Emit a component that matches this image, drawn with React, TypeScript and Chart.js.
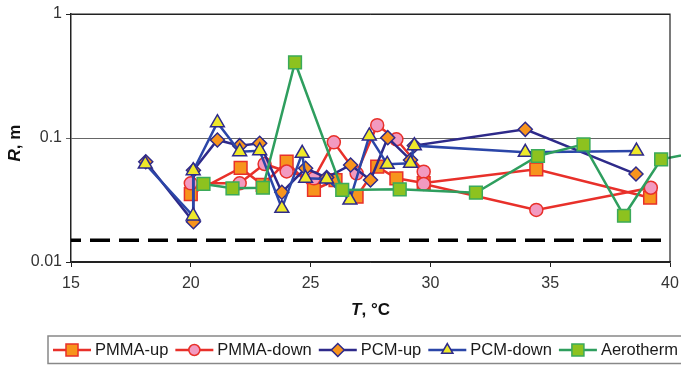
import React, { useEffect, useRef } from 'react';
import { Chart, registerables } from 'chart.js';

Chart.register(...registerables);

const FONT = "'Liberation Sans', Arial, Helvetica, sans-serif";

// Temperature (°C) and radius R (m) per series
const pmmaUpT = [20.0, 22.08, 23.0, 24.0, 25.14, 26.04, 26.92, 27.78, 28.58, 29.72, 34.42, 39.17];
const pmmaUpR = [0.0353, 0.0573, 0.0418, 0.0644, 0.0381, 0.0458, 0.0336, 0.0587, 0.0473, 0.0433, 0.0559, 0.033];

const pmmaDownT = [20.0, 22.04, 23.08, 24.0, 25.14, 25.97, 26.92, 27.78, 28.58, 29.72, 29.72, 34.42, 39.2];
const pmmaDownR = [0.0431, 0.0431, 0.0617, 0.0537, 0.0473, 0.0923, 0.0519, 0.127, 0.0976, 0.0535, 0.0426, 0.0263, 0.0397];

const pcmUpT = [18.12, 20.11, 20.11, 21.11, 22.04, 22.875, 23.8, 24.79, 25.67, 26.67, 27.5, 28.22, 29.17, 29.33, 33.96, 38.58];
const pcmUpR = [0.0644, 0.0211, 0.055, 0.0964, 0.0867, 0.0906, 0.0365, 0.057, 0.048, 0.0606, 0.0458, 0.1006, 0.0665, 0.087, 0.1175, 0.0512];

const pcmDownT = [18.1, 20.1, 20.1, 21.11, 22.04, 22.875, 23.8, 24.65, 24.79, 25.67, 26.64, 27.45, 28.2, 29.17, 29.33, 33.96, 38.6];
const pcmDownR = [0.0617, 0.0235, 0.0545, 0.133, 0.0776, 0.079, 0.0271, 0.0753, 0.0473, 0.0467, 0.0316, 0.104, 0.0614, 0.0625, 0.0867, 0.0767, 0.0785];

const aeroT = [20.53, 21.74, 23.01, 24.35, 26.32, 28.72, 31.9, 34.49, 36.39, 38.08, 39.63, 41.5];
const aeroR = [0.0426, 0.0393, 0.0397, 0.408, 0.0381, 0.0386, 0.0362, 0.0716, 0.0889, 0.0236, 0.0673, 0.079];

const limitT = [15, 40];
const limitR = [0.015, 0.015];

const seriesNames = ['PMMA-up', 'PMMA-down', 'PCM-up', 'PCM-down', 'Aerotherm'];
const xTickValues = [15, 20, 25, 30, 35, 40];
const yTickValues = [0.01, 0.1, 1];

const pts = (xs: number[], ys: number[]) => xs.map((x, i) => ({ x, y: ys[i] }));

type Sty = { line: string; fill: string; stroke: string; shape: string; r: number };
const styles: Sty[] = [
  { line: '#E8302A', fill: '#F7941D', stroke: '#E8302A', shape: 'rect', r: 9 },
  { line: '#E8302A', fill: '#F29AC0', stroke: '#E8302A', shape: 'circle', r: 6.5 },
  { line: '#2E2A8A', fill: '#F7941D', stroke: '#2E2A8A', shape: 'rectRot', r: 7 },
  { line: '#2B46A8', fill: '#EEE82A', stroke: '#2E2A8A', shape: 'triangle', r: 8 },
  { line: '#2E9E5E', fill: '#8DC21F', stroke: '#3BAA5A', shape: 'rect', r: 9 },
];

function drawMarker(ctx: CanvasRenderingContext2D, s: Sty, x: number, y: number, r: number) {
  ctx.beginPath();
  if (s.shape === 'rect') {
    const h = Math.SQRT1_2 * r;
    ctx.rect(x - h, y - h, 2 * h, 2 * h);
  } else if (s.shape === 'circle') {
    ctx.arc(x, y, r, 0, Math.PI * 2);
  } else if (s.shape === 'rectRot') {
    ctx.moveTo(x - r, y); ctx.lineTo(x, y - r); ctx.lineTo(x + r, y); ctx.lineTo(x, y + r); ctx.closePath();
  } else {
    ctx.moveTo(x, y - r);
    ctx.lineTo(x + Math.sin((2 * Math.PI) / 3) * r, y - Math.cos((2 * Math.PI) / 3) * r);
    ctx.lineTo(x + Math.sin((4 * Math.PI) / 3) * r, y - Math.cos((4 * Math.PI) / 3) * r);
    ctx.closePath();
  }
  ctx.fillStyle = s.fill;
  ctx.strokeStyle = s.stroke;
  ctx.lineWidth = 1.5;
  ctx.fill();
  ctx.stroke();
}

const decorPlugin = {
  id: 'decor',
  afterDraw(chart: any) {
    const { ctx, chartArea: a } = chart;
    ctx.save();
    // frame (top / right)
    ctx.strokeStyle = '#222';
    ctx.lineWidth = 1.2;
    ctx.beginPath();
    ctx.moveTo(a.left, a.top);
    ctx.lineTo(a.right, a.top);
    ctx.lineTo(a.right, a.bottom);
    ctx.stroke();

    // y title
    ctx.fillStyle = '#111';
    ctx.textBaseline = 'middle';
    ctx.save();
    ctx.translate(15, 143);
    ctx.rotate(-Math.PI / 2);
    const f1 = `italic bold 17px ${FONT}`;
    const f2 = `bold 17px ${FONT}`;
    ctx.font = f1;
    const w1 = ctx.measureText('R').width;
    ctx.font = f2;
    const w2 = ctx.measureText(', m').width;
    const sx = -(w1 + w2) / 2;
    ctx.textAlign = 'left';
    ctx.font = f1; ctx.fillText('R', sx, 0);
    ctx.font = f2; ctx.fillText(', m', sx + w1, 0);
    ctx.restore();

    // x title
    ctx.font = f1;
    const t1 = ctx.measureText('T').width;
    ctx.font = f2;
    const t2 = ctx.measureText(', °C').width;
    const cx = (a.left + a.right) / 2;
    const tx = cx - (t1 + t2) / 2;
    ctx.textAlign = 'left';
    ctx.font = f1; ctx.fillText('T', tx, 310);
    ctx.font = f2; ctx.fillText(', °C', tx + t1, 310);

    // legend
    ctx.strokeStyle = '#888';
    ctx.lineWidth = 1.5;
    ctx.strokeRect(48, 336, 700, 27.5);
    ctx.font = `16.5px ${FONT}`;
    ctx.textBaseline = 'middle';
    let lx = 53;
    const ly = 350;
    seriesNames.forEach((name, i) => {
      const s = styles[i];
      ctx.strokeStyle = s.line;
      ctx.lineWidth = 2.5;
      ctx.beginPath();
      ctx.moveTo(lx, ly);
      ctx.lineTo(lx + 38, ly);
      ctx.stroke();
      drawMarker(ctx, s, lx + 19, ly, s.shape === 'rect' ? 8.5 : s.shape === 'circle' ? 5.5 : 6.5);
      ctx.fillStyle = '#1a1a1a';
      ctx.fillText(name, lx + 42, ly + 0.5);
      lx += 42 + ctx.measureText(name).width + 7;
    });
    ctx.restore();
  },
};

export default function App() {
  const ref = useRef<HTMLCanvasElement | null>(null);
  useEffect(() => {
    if (!ref.current) return;
    const seriesData = [
      pts(pmmaUpT, pmmaUpR),
      pts(pmmaDownT, pmmaDownR),
      pts(pcmUpT, pcmUpR),
      pts(pcmDownT, pcmDownR),
      pts(aeroT, aeroR),
    ];
    const datasets: any[] = seriesData.map((d, i) => ({
      label: seriesNames[i],
      data: d,
      borderColor: styles[i].line,
      borderWidth: 2.5,
      pointStyle: styles[i].shape,
      pointRadius: styles[i].r,
      pointBackgroundColor: styles[i].fill,
      pointBorderColor: styles[i].stroke,
      pointBorderWidth: 1.5,
      tension: 0,
      clip: false,
      order: 5 - i,
    }));
    datasets.push({
      label: 'limit',
      data: pts(limitT, limitR),
      borderColor: '#000',
      borderWidth: 3.5,
      borderDash: [20, 9],
      borderDashOffset: 10,
      pointRadius: 0,
      order: 10,
    });
    const chart = new Chart(ref.current, {
      type: 'line',
      data: { datasets },
      plugins: [decorPlugin],
      options: {
        animation: false,
        responsive: true,
        maintainAspectRatio: false,
        events: [],
        layout: { padding: { left: 0, right: 11, top: 14, bottom: 0 } },
        plugins: { legend: { display: false }, tooltip: { enabled: false } },
        scales: {
          x: {
            type: 'linear',
            min: 15,
            max: 40,
            afterFit: (s: any) => { s.height = 103; s.paddingLeft = 0; s.paddingRight = 0; },
            afterBuildTicks: (s: any) => { s.ticks = xTickValues.map((v) => ({ value: v })); },
            ticks: { font: { family: FONT, size: 16 }, color: '#333', padding: 7, maxRotation: 0 },
            grid: { drawOnChartArea: false, drawTicks: true, tickLength: 5, color: '#222' },
            border: { color: '#222', width: 1.5 },
          },
          y: {
            type: 'logarithmic',
            min: 0.01,
            max: 1,
            afterFit: (s: any) => { s.width = 71; s.paddingTop = 0; s.paddingBottom = 0; },
            afterBuildTicks: (s: any) => { s.ticks = yTickValues.map((v) => ({ value: v })); },
            ticks: {
              font: { family: FONT, size: 16 },
              color: '#333',
              padding: 4,
              callback: (v: any) => String(v),
            },
            grid: {
              drawTicks: true,
              tickLength: 5,
              color: (c: any) => (c.tick && c.tick.value === 0.1 ? '#666' : '#222'),
              lineWidth: 1,
            },
            border: { color: '#222', width: 1.5 },
          },
        },
      },
    });
    return () => chart.destroy();
  }, []);
  return (
    <div style={{ position: 'fixed', left: 0, top: 0, width: 681, height: 365, background: '#fff' }}>
      <canvas ref={ref} />
    </div>
  );
}
